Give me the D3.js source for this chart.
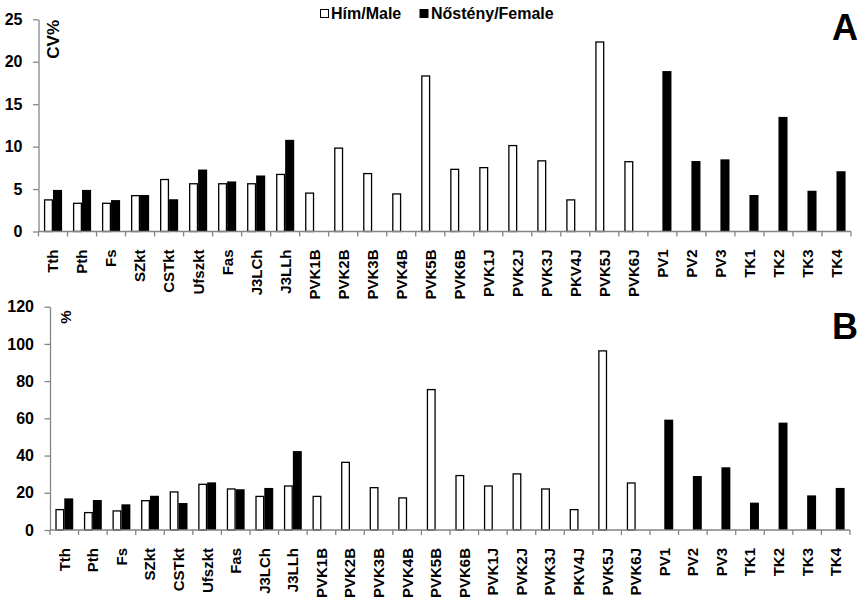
<!DOCTYPE html>
<html>
<head>
<meta charset="utf-8">
<script src="https://cdn.jsdelivr.net/npm/d3@7"></script>
<style>
  html, body { margin: 0; padding: 0; background: #fff; }
  svg { display: block; font-family: Arial, "Liberation Sans", sans-serif; font-weight: bold; }
</style>
</head>
<body>
<svg id="chart" width="863" height="600"></svg>
<script>
// Traits measured on males and females
const categories = ["Tth", "Pth", "Fs", "SZkt", "CSTkt", "Ufszkt", "Fas", "J3LCh", "J3LLh",
  "PVK1B", "PVK2B", "PVK3B", "PVK4B", "PVK5B", "PVK6B",
  "PVK1J", "PVK2J", "PVK3J", "PKV4J", "PVK5J", "PVK6J",
  "PV1", "PV2", "PV3", "TK1", "TK2", "TK3", "TK4"];

const seriesNames = ["Hím/Male", "Nőstény/Female"];

// Panel A: coefficient of variation (CV%)
const cvMale = [3.8, 3.4, 3.4, 4.3, 6.2, 5.7, 5.7, 5.7, 6.8,
  4.6, 9.9, 6.9, 4.5, 18.4, 7.4,
  7.6, 10.2, 8.4, 3.8, 22.4, 8.3,
  null, null, null, null, null, null, null];
const cvFemale = [4.9, 4.9, 3.7, 4.3, 3.8, 7.3, 5.9, 6.6, 10.8,
  null, null, null, null, null, null,
  null, null, null, null, null, null,
  18.9, 8.3, 8.5, 4.3, 13.5, 4.8, 7.1];

// Panel B: percentage values
const pctMale = [11.3, 9.7, 10.6, 16.1, 20.8, 24.9, 22.4, 18.4, 24.0,
  18.4, 36.7, 23.1, 17.6, 75.8, 29.6,
  24.0, 30.5, 22.4, 11.3, 96.6, 25.6,
  null, null, null, null, null, null, null];
const pctFemale = [17.0, 16.1, 13.8, 18.4, 14.5, 25.6, 21.9, 22.6, 42.4,
  null, null, null, null, null, null,
  null, null, null, null, null, null,
  59.3, 29.0, 33.7, 14.7, 57.7, 18.6, 22.6];

const cvTicks = [0, 5, 10, 15, 20, 25];
const pctTicks = [0, 20, 40, 60, 80, 100, 120];

const svg = d3.select("#chart");
const axisColor = "#858585";

function drawPanel(cfg) {
  const g = svg.append("g");
  const x = d3.scaleBand().domain(categories).range([cfg.left, cfg.right]).padding(0);
  const sub = d3.scaleBand().domain(seriesNames).range([0, x.bandwidth()])
    .paddingInner(0).paddingOuter(0.6);
  const y = d3.scaleLinear().domain([0, d3.max(cfg.ticks)]).range([cfg.bottom, cfg.top]);

  // bars
  const rows = categories.map((c, i) => ({ c, m: cfg.male[i], f: cfg.female[i] }));
  const sw = 1.3;
  g.append("g").selectAll("rect.m")
    .data(rows.filter(d => d.m != null))
    .join("rect")
    .attr("x", d => x(d.c) + sub(seriesNames[0]) + sw / 2)
    .attr("width", sub.bandwidth() - sw)
    .attr("y", d => y(d.m) + sw / 2)
    .attr("height", d => y(0) - y(d.m) - sw / 2)
    .attr("fill", "#fff").attr("stroke", "#000").attr("stroke-width", sw);
  g.append("g").selectAll("rect.f")
    .data(rows.filter(d => d.f != null))
    .join("rect")
    .attr("x", d => x(d.c) + sub(seriesNames[1]))
    .attr("width", sub.bandwidth())
    .attr("y", d => y(d.f))
    .attr("height", d => y(0) - y(d.f))
    .attr("fill", "#000");

  // y axis
  const ya = g.append("g").attr("transform", `translate(${cfg.left},0)`)
    .call(d3.axisLeft(y).tickValues(cfg.ticks).tickSize(5.5).tickSizeOuter(0).tickPadding(10.5));
  ya.select(".domain").attr("stroke", axisColor).attr("stroke-width", 1.3);
  ya.selectAll(".tick line").attr("stroke", axisColor).attr("stroke-width", 1.3);
  ya.selectAll(".tick text").attr("fill", "#000")
    .style("font-size", "16px").style("font-family", "Arial, 'Liberation Sans', sans-serif")
    .style("font-weight", "bold");

  // x axis: baseline, boundary ticks, rotated category labels
  const xa = g.append("g");
  xa.append("line")
    .attr("x1", cfg.left).attr("x2", cfg.right)
    .attr("y1", y(0)).attr("y2", y(0))
    .attr("stroke", axisColor).attr("stroke-width", 1.3);
  const bounds = categories.map(c => x(c)).concat([cfg.right]);
  xa.selectAll("line.tk").data(bounds).join("line")
    .attr("x1", d => d).attr("x2", d => d)
    .attr("y1", y(0)).attr("y2", y(0) + 5)
    .attr("stroke", axisColor).attr("stroke-width", 1.3);
  xa.selectAll("text").data(categories).join("text")
    .attr("transform", d => `translate(${x(d) + x.bandwidth() / 2},${y(0) + 18}) rotate(-90)`)
    .attr("text-anchor", "end")
    .attr("dy", "0.36em")
    .style("font-size", "15px")
    .text(d => d);

  // axis title inside plot
  g.append("text")
    .attr("transform", `translate(${cfg.titleX},${cfg.titleY}) rotate(-90)`)
    .attr("text-anchor", "end")
    .attr("dy", "0.36em")
    .style("font-size", cfg.titleSize)
    .text(cfg.title);

  // panel letter
  g.append("text")
    .attr("x", 858).attr("y", cfg.letterY)
    .attr("text-anchor", "end")
    .style("font-size", "36px")
    .text(cfg.letter);
}

drawPanel({
  left: 38.5, right: 851, top: 19.3, bottom: 231.5,
  ticks: cvTicks, male: cvMale, female: cvFemale,
  title: "CV%", titleX: 53, titleY: 20, titleSize: "17px", letter: "A", letterY: 40
});

drawPanel({
  left: 50, right: 850, top: 306.7, bottom: 530,
  ticks: pctTicks, male: pctMale, female: pctFemale,
  title: "%", titleX: 66, titleY: 310.5, titleSize: "15px", letter: "B", letterY: 338.5
});

// legend
const legend = svg.append("g");
const legendItems = [
  { name: seriesNames[0], sx: 320, tx: 331, fill: "#fff" },
  { name: seriesNames[1], sx: 419.5, tx: 431, fill: "#000" }
];
legendItems.forEach(it => {
  legend.append("rect")
    .attr("x", it.sx + 0.5).attr("y", 9.5).attr("width", 8).attr("height", 8)
    .attr("fill", it.fill).attr("stroke", "#000").attr("stroke-width", 1);
  legend.append("text")
    .attr("x", it.tx).attr("y", 19.3)
    .style("font-size", "16px")
    .text(it.name);
});
</script>
</body>
</html>
